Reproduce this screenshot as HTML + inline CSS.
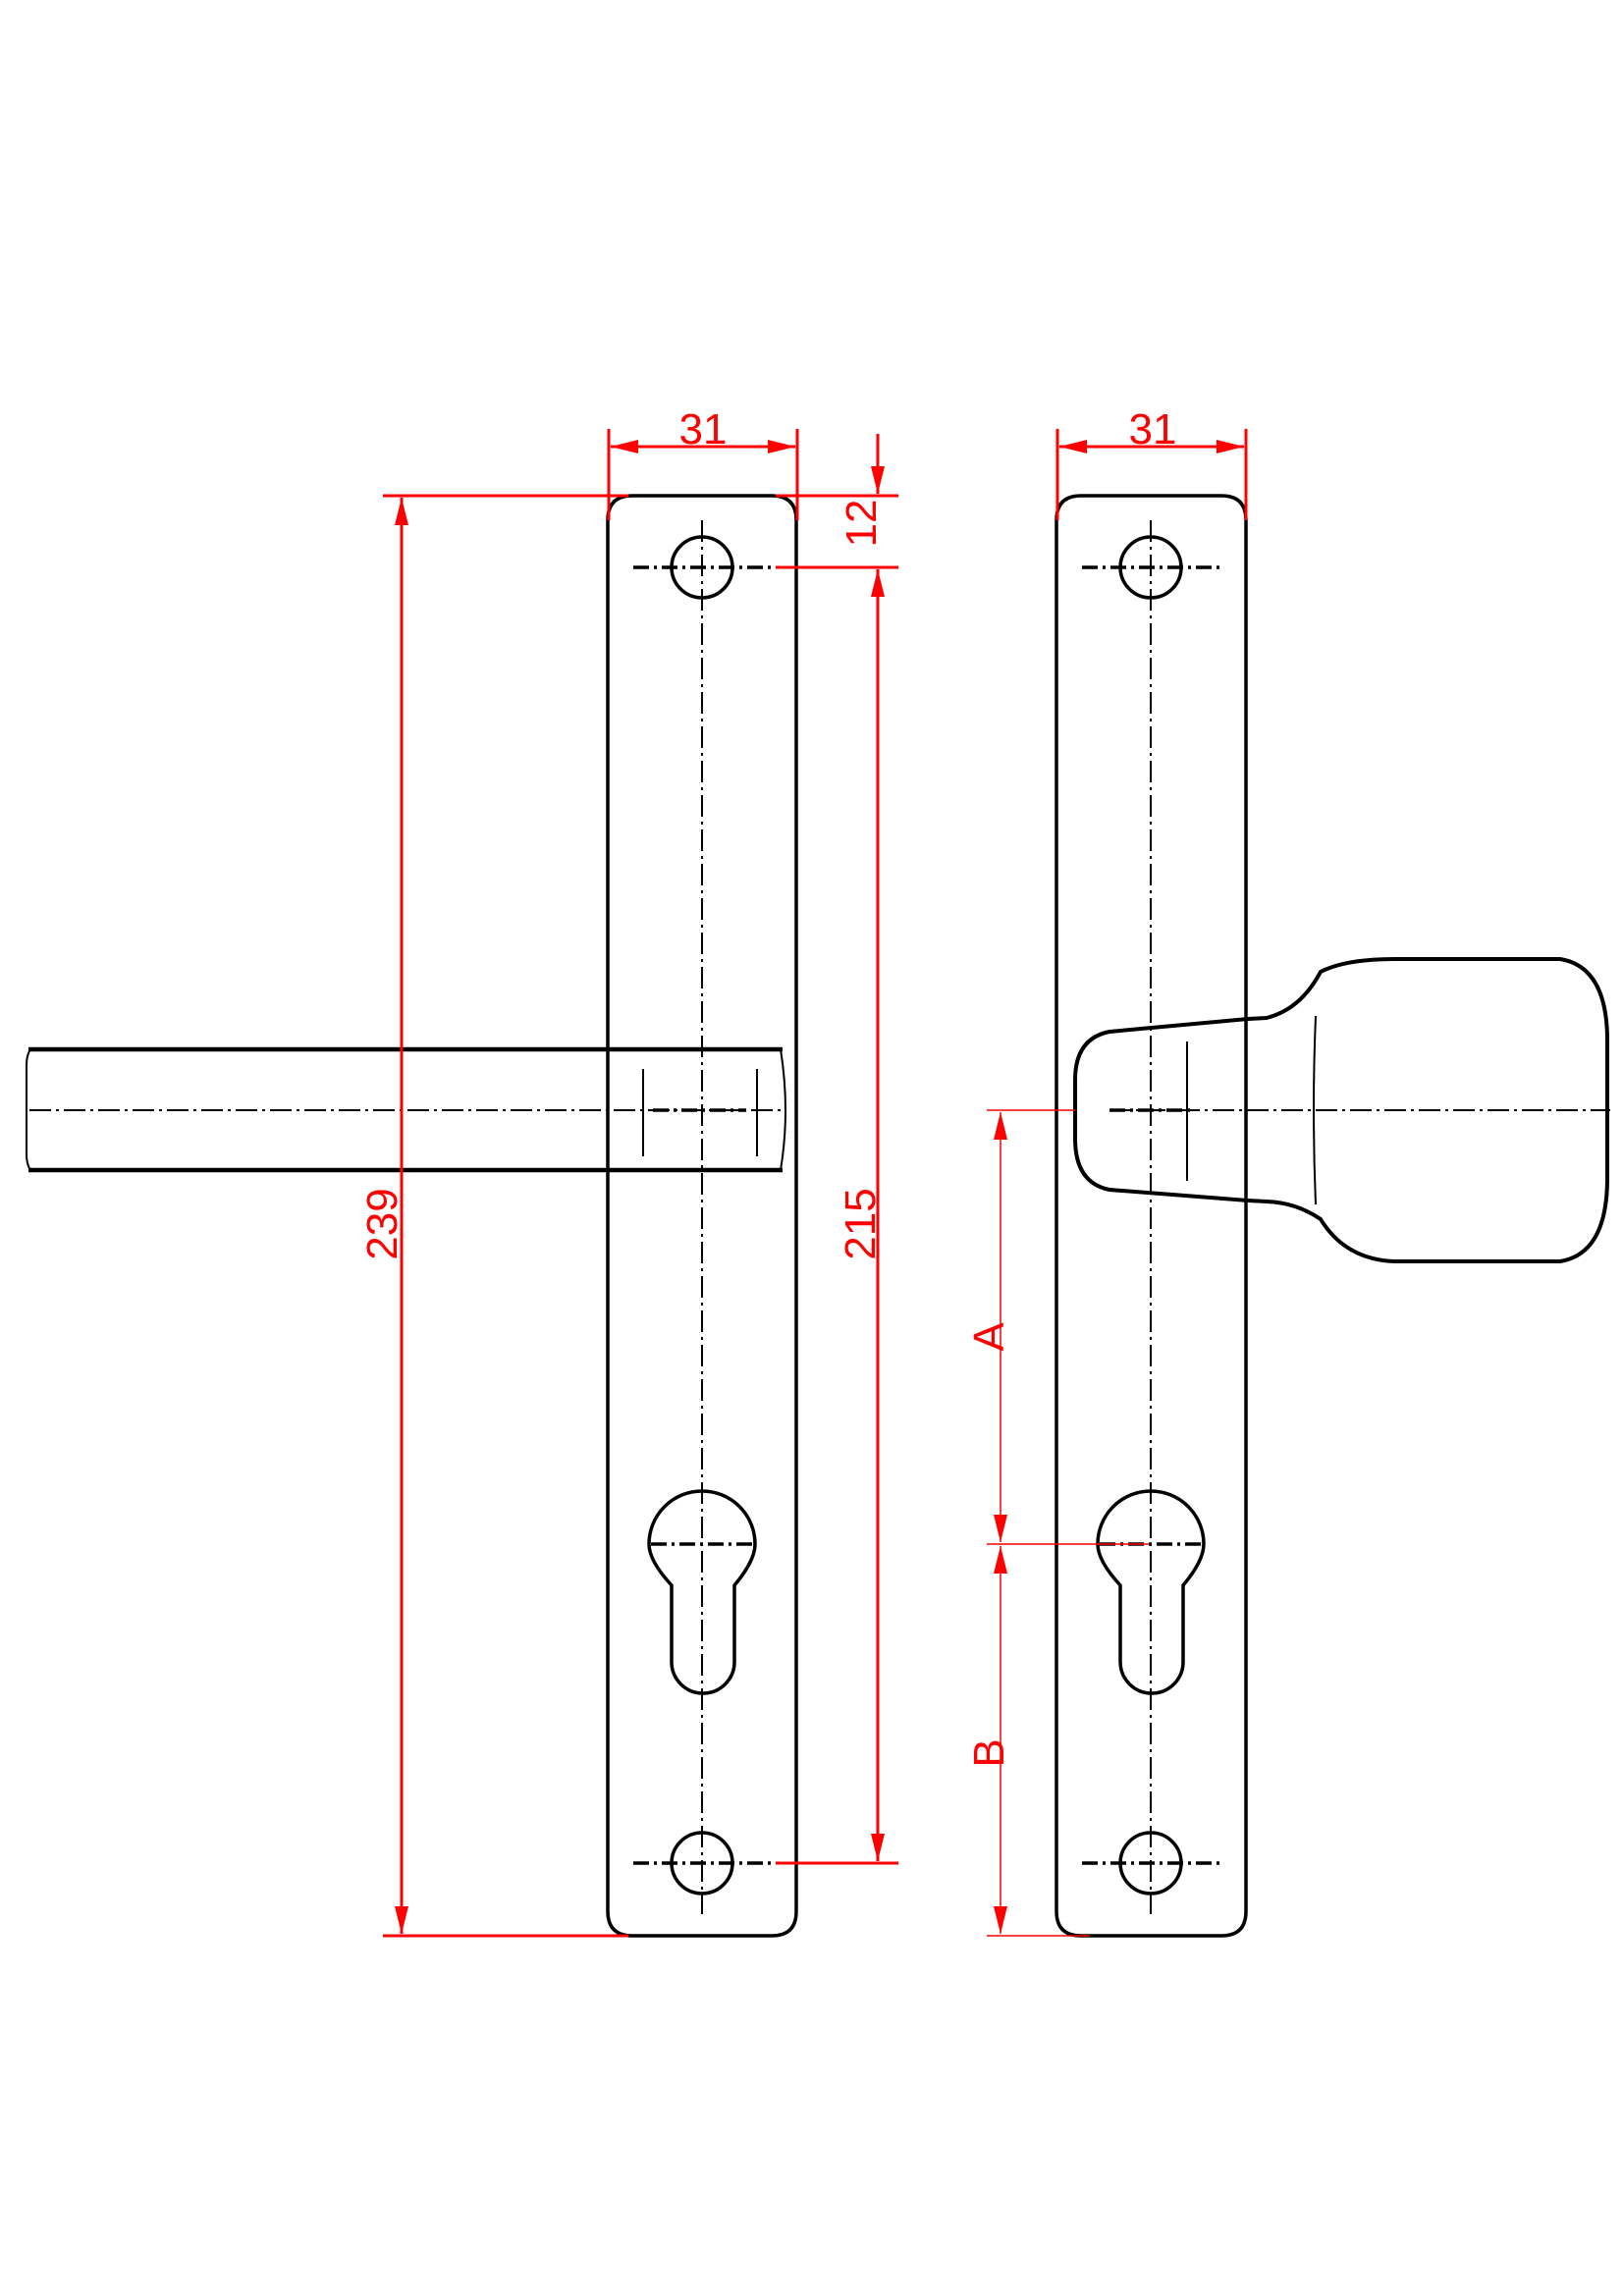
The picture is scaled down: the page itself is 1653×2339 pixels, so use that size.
<!DOCTYPE html>
<html><head><meta charset="utf-8"><style>body{margin:0;background:#fff}svg{display:block}</style></head>
<body>
<svg width="1653" height="2339" viewBox="0 0 1653 2339" xmlns="http://www.w3.org/2000/svg" font-family="Liberation Sans, sans-serif">
<defs>
<marker id="arl" markerWidth="28" markerHeight="14" refX="28" refY="7" orient="auto" markerUnits="userSpaceOnUse" viewBox="0 0 28 14"><path d="M0,0 L28,7 L0,14Z" fill="red"/></marker>
</defs>
<g fill="none" stroke="#000" stroke-width="3.5">
<path d="M619,530 Q619,505 644,505 L786,505 Q811,505 811,530 L811,1947 Q811,1972 786,1972 L644,1972 Q619,1972 619,1947 Z"/>
<circle cx="715" cy="578" r="31"/>
<circle cx="715" cy="1898" r="31"/>
<path d="M684,1615 Q661,1590 661,1573 A54,54 0 0 1 769,1573 Q769,1590 748,1615 L748,1693 A32,32 0 0 1 684,1693 Z"/>
<path d="M29,1069 L797,1069 M29,1192 L797,1192" stroke-width="4.5"/>
<path d="M31,1069 Q27,1075 27,1085 L27,1176 Q27,1186 31,1192 M795,1069 Q800,1100 800,1131 Q800,1162 795,1192" stroke-width="2"/>
<path d="M1076,530 Q1076,505 1101,505 L1244,505 Q1269,505 1269,530 L1269,1947 Q1269,1972 1244,1972 L1101,1972 Q1076,1972 1076,1947 Z"/>
<circle cx="1172" cy="578" r="31"/>
<circle cx="1172" cy="1898" r="31"/>
<path d="M1141,1615 Q1118,1590 1118,1573 A54,54 0 0 1 1226,1573 Q1226,1590 1205,1615 L1205,1693 A32,32 0 0 1 1141,1693 Z"/>
<path d="M1130,1051 L1271,1038 L1290,1037 Q1325,1028 1345,990 Q1370,977 1420,977 L1589,977 Q1637,985 1637,1060 L1637,1200 Q1637,1277 1589,1285 L1420,1285 Q1370,1283 1345,1242 Q1320,1225 1290,1224 L1271,1223 L1130,1212 Q1095,1205 1095,1160 L1095,1100 Q1095,1058 1130,1051 Z" stroke-width="4"/>
<path d="M1340,1035 Q1336,1131 1340,1227" stroke-width="2"/>
</g>
<g stroke="#000" stroke-width="2">
<line x1="655" y1="1089" x2="655" y2="1178"/><line x1="771" y1="1089" x2="771" y2="1178"/>
<line x1="1209" y1="1061" x2="1209" y2="1203"/>
</g>
<g stroke="#000" stroke-width="2" stroke-dasharray="22,5,3,5" fill="none">
<line x1="715" y1="530" x2="715" y2="1950"/>
<line x1="1172" y1="530" x2="1172" y2="1950"/>
<line x1="30" y1="1131" x2="800" y2="1131"/>
<line x1="1130" y1="1131" x2="1640" y2="1131"/>
</g>
<g stroke="#000" stroke-width="3.5" stroke-dasharray="16,5,3,5" fill="none">
<line x1="645" y1="578" x2="785" y2="578"/><line x1="645" y1="1898" x2="785" y2="1898"/>
<line x1="663" y1="1573" x2="768" y2="1573"/>
<line x1="1102" y1="578" x2="1242" y2="578"/><line x1="1102" y1="1898" x2="1242" y2="1898"/>
<line x1="1120" y1="1573" x2="1225" y2="1573"/>
<line x1="665" y1="1131" x2="760" y2="1131"/><line x1="1130" y1="1131" x2="1215" y2="1131"/>
</g>
<g stroke="red" fill="none">
<g stroke-width="3">
<line x1="620" y1="437" x2="620" y2="530"/><line x1="812" y1="437" x2="812" y2="530"/>
<line x1="1077" y1="437" x2="1077" y2="530"/><line x1="1269" y1="437" x2="1269" y2="530"/>
<line x1="640" y1="455" x2="622" y2="455" marker-end="url(#arl)"/><line x1="640" y1="455" x2="810" y2="455" marker-end="url(#arl)"/>
<line x1="1100" y1="455" x2="1079" y2="455" marker-end="url(#arl)"/><line x1="1100" y1="455" x2="1267" y2="455" marker-end="url(#arl)"/>
<line x1="390" y1="505" x2="640" y2="505"/><line x1="790" y1="505" x2="915" y2="505"/>
<line x1="790" y1="578" x2="915" y2="578"/>
<line x1="790" y1="1898" x2="915" y2="1898"/>
<line x1="390" y1="1972" x2="640" y2="1972"/>
<line x1="409" y1="700" x2="409" y2="507" marker-end="url(#arl)"/><line x1="409" y1="700" x2="409" y2="1970" marker-end="url(#arl)"/>
<line x1="894" y1="442" x2="894" y2="503" marker-end="url(#arl)"/>
<line x1="894" y1="700" x2="894" y2="580" marker-end="url(#arl)"/><line x1="894" y1="700" x2="894" y2="1896" marker-end="url(#arl)"/>
</g>
<g stroke-width="1.5">
<line x1="1005" y1="1131" x2="1095" y2="1131"/>
<line x1="1005" y1="1573" x2="1170" y2="1573"/>
<line x1="1005" y1="1972" x2="1110" y2="1972"/>
<line x1="1019" y1="1300" x2="1019" y2="1133" marker-end="url(#arl)"/><line x1="1019" y1="1300" x2="1019" y2="1571" marker-end="url(#arl)"/>
<line x1="1019" y1="1750" x2="1019" y2="1575" marker-end="url(#arl)"/><line x1="1019" y1="1750" x2="1019" y2="1970" marker-end="url(#arl)"/>
</g>
</g>
<g fill="red" font-size="44" text-anchor="middle">
<text x="716" y="452">31</text>
<text x="1174" y="452">31</text>
<text transform="translate(892,533) rotate(-90)">12</text>
<text transform="translate(404,1247) rotate(-90)">239</text>
<text transform="translate(891,1247) rotate(-90)">215</text>
<text transform="translate(1022,1362) rotate(-90)">A</text>
<text transform="translate(1022,1786) rotate(-90)">B</text>
</g>
</svg>
</body></html>
